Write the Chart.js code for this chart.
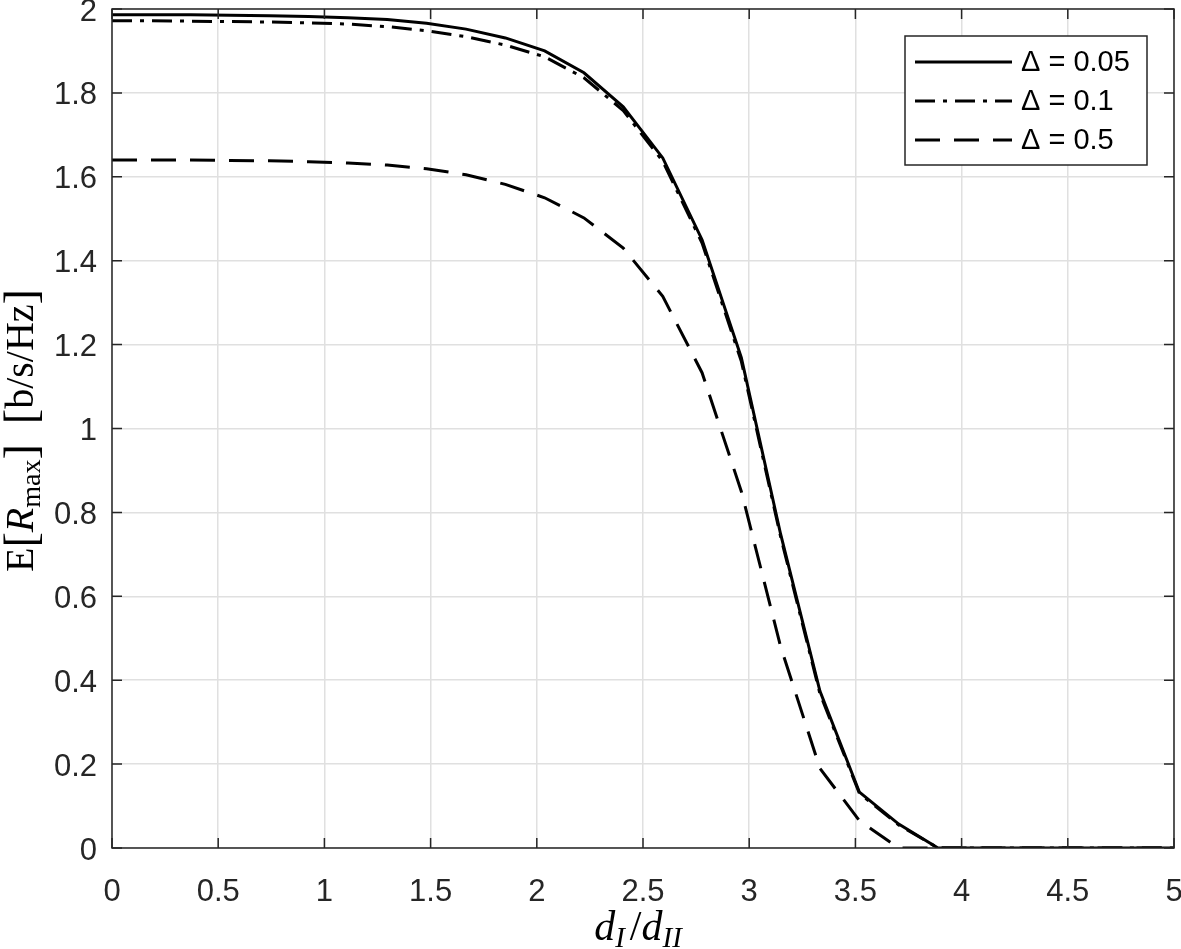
<!DOCTYPE html>
<html>
<head>
<meta charset="utf-8">
<script src="https://cdn.jsdelivr.net/npm/chart.js@4.4.2/dist/chart.umd.min.js"></script>
<style>
  html, body { margin: 0; padding: 0; background: #fff; }
  canvas { display: block; }
</style>
</head>
<body>
<canvas id="chart" width="1181" height="949"></canvas>
<script>
// Datos
const xValues = [0, 0.185, 0.370, 0.556, 0.741, 0.926, 1.111, 1.296, 1.481, 1.667,
  1.852, 2.037, 2.222, 2.407, 2.593, 2.778, 2.963, 3.148, 3.333, 3.519,
  3.704, 3.889, 4.074, 4.259, 4.444, 4.630, 4.815, 5.000];

const delta005 = [1.986, 1.986, 1.986, 1.985, 1.984, 1.982, 1.979, 1.975, 1.966, 1.952,
  1.931, 1.900, 1.848, 1.767, 1.645, 1.450, 1.169, 0.748, 0.374, 0.133,
  0.057, 0, 0, 0, 0, 0, 0, 0];

const delta01 = [1.972, 1.972, 1.971, 1.970, 1.969, 1.967, 1.964, 1.958, 1.948, 1.934,
  1.914, 1.886, 1.836, 1.758, 1.637, 1.442, 1.160, 0.742, 0.368, 0.130,
  0.055, 0, 0, 0, 0, 0, 0, 0];

const delta05 = [1.640, 1.640, 1.640, 1.639, 1.638, 1.636, 1.633, 1.628, 1.619, 1.605,
  1.582, 1.550, 1.502, 1.430, 1.315, 1.133, 0.850, 0.480, 0.190, 0.065,
  0, 0, 0, 0, 0, 0, 0, 0];

const seriesLabels = ['\u0394 = 0.05', '\u0394 = 0.1', '\u0394 = 0.5'];
const xTicks = [0, 0.5, 1, 1.5, 2, 2.5, 3, 3.5, 4, 4.5, 5];
const yTicks = [0, 0.2, 0.4, 0.6, 0.8, 1, 1.2, 1.4, 1.6, 1.8, 2];

const AXIS_COLOR = '#262626';
const GRID_COLOR = '#e0e0e0';
const SANS = '"Liberation Sans", Arial, Helvetica, sans-serif';
const SERIF = '"Liberation Serif", "DejaVu Serif", serif';
const dashStyles = [[], [20, 8, 4, 8], [25, 14]];

const toPoints = ys => xValues.map((x, i) => ({ x: x, y: ys[i] }));

// Ejes, marcas hacia dentro, caja, títulos y leyenda al estilo MATLAB
const matlabAxes = {
  id: 'matlabAxes',
  afterDatasetsDraw(chart) {
    const { ctx, chartArea: a, scales: { x, y } } = chart;
    const tick = 10;
    ctx.save();
    ctx.strokeStyle = AXIS_COLOR;
    ctx.lineWidth = 1.5;
    ctx.beginPath();
    xTicks.forEach(v => {
      const px = x.getPixelForValue(v);
      ctx.moveTo(px, a.bottom); ctx.lineTo(px, a.bottom - tick);
      ctx.moveTo(px, a.top); ctx.lineTo(px, a.top + tick);
    });
    yTicks.forEach(v => {
      const py = y.getPixelForValue(v);
      ctx.moveTo(a.left, py); ctx.lineTo(a.left + tick, py);
      ctx.moveTo(a.right, py); ctx.lineTo(a.right - tick, py);
    });
    ctx.stroke();
    ctx.strokeRect(a.left, a.top, a.right - a.left, a.bottom - a.top);

    // Etiquetas del eje y (un poco por debajo de la marca, como en el original)
    ctx.fillStyle = AXIS_COLOR;
    ctx.font = '31px ' + SANS;
    ctx.textAlign = 'right';
    ctx.textBaseline = 'middle';
    yTicks.forEach(v => {
      ctx.fillText(String(v), a.left - 15, y.getPixelForValue(v) + 3);
    });

    // Leyenda
    const lx = 905, ly = 36, lw = 242, lh = 129;
    ctx.fillStyle = '#fff';
    ctx.fillRect(lx, ly, lw, lh);
    ctx.strokeRect(lx, ly, lw, lh);
    const rows = [62, 101, 140];
    ctx.font = '29px ' + SANS;
    ctx.textBaseline = 'middle';
    ctx.textAlign = 'left';
    rows.forEach((ry, i) => {
      ctx.save();
      ctx.strokeStyle = '#000';
      ctx.lineWidth = 3;
      ctx.setLineDash(dashStyles[i]);
      ctx.beginPath();
      ctx.moveTo(915, ry); ctx.lineTo(1012, ry);
      ctx.stroke();
      ctx.restore();
      ctx.fillStyle = '#000';
      ctx.fillText(seriesLabels[i], 1021, ry + 1);
    });

    // Título del eje x: d_I / d_II
    ctx.fillStyle = '#000';
    ctx.textBaseline = 'alphabetic';
    const parts = [
      { t: 'd', f: 'italic 42px ' + SERIF, dy: 0, gap: 0 },
      { t: 'I', f: 'italic 29px ' + SERIF, dy: 7, gap: 5 },
      { t: '/', f: '42px ' + SERIF, dy: 0, gap: 0 },
      { t: 'd', f: 'italic 42px ' + SERIF, dy: 0, gap: 0 },
      { t: 'II', f: 'italic 29px ' + SERIF, dy: 7, gap: 0 }
    ];
    let total = 0;
    parts.forEach(p => { ctx.font = p.f; p.w = ctx.measureText(p.t).width + p.gap; total += p.w; });
    let cx = 638 - total / 2;
    parts.forEach(p => { ctx.font = p.f; ctx.fillText(p.t, cx, 940 + p.dy); cx += p.w; });

    // Título del eje y: E[R_max] [b/s/Hz]
    const yparts = [
      { t: 'E', f: '40px ' + SERIF, dy: 0 },
      { t: '[', f: '46px ' + SERIF, dy: 3 },
      { t: 'R', f: 'italic 40px ' + SERIF, dy: 0 },
      { t: 'max', f: '28px ' + SERIF, dy: 7 },
      { t: ']', f: '46px ' + SERIF, dy: 3 },
      { t: '  ', f: '40px ' + SERIF, dy: 0 },
      { t: '[', f: '46px ' + SERIF, dy: 3 },
      { t: 'b/s/Hz', f: '40px ' + SERIF, dy: 0 },
      { t: ']', f: '46px ' + SERIF, dy: 3 }
    ];
    total = 0;
    yparts.forEach(p => { ctx.font = p.f; p.w = ctx.measureText(p.t).width; total += p.w; });
    ctx.translate(33, (a.top + a.bottom) / 2 + 2);
    ctx.rotate(-Math.PI / 2);
    cx = -total / 2;
    yparts.forEach(p => { ctx.font = p.f; ctx.fillText(p.t, cx, p.dy); cx += p.w; });
    ctx.restore();
  }
};

const ctx = document.getElementById('chart');
new Chart(ctx, {
  type: 'line',
  data: {
    datasets: [delta005, delta01, delta05].map((ys, i) => ({
      label: seriesLabels[i],
      data: toPoints(ys),
      borderColor: '#000',
      borderWidth: 3,
      borderDash: dashStyles[i],
      pointRadius: 0,
      tension: 0,
      fill: false
    }))
  },
  options: {
    responsive: false,
    animation: false,
    devicePixelRatio: 1,
    layout: { padding: { top: 9, right: 7, left: 0, bottom: 0 } },
    plugins: { legend: { display: false }, tooltip: { enabled: false } },
    scales: {
      x: {
        type: 'linear',
        min: 0, max: 5,
        afterBuildTicks: s => { s.ticks = xTicks.map(v => ({ value: v })); },
        afterFit: s => { s.height = 101; s.paddingLeft = 0; s.paddingRight = 0; },
        grid: { color: GRID_COLOR, lineWidth: 1.5, drawTicks: false },
        border: { display: false },
        ticks: {
          color: AXIS_COLOR, padding: 26, maxRotation: 0,
          font: { family: SANS, size: 31 },
          callback: v => String(v)
        }
      },
      y: {
        type: 'linear',
        min: 0, max: 2,
        afterBuildTicks: s => { s.ticks = yTicks.map(v => ({ value: v })); },
        afterFit: s => { s.width = 112; s.paddingTop = 0; s.paddingBottom = 0; },
        grid: { color: GRID_COLOR, lineWidth: 1.5, drawTicks: false },
        border: { display: false },
        ticks: { display: false }
      }
    }
  },
  plugins: [matlabAxes]
});
</script>
</body>
</html>
